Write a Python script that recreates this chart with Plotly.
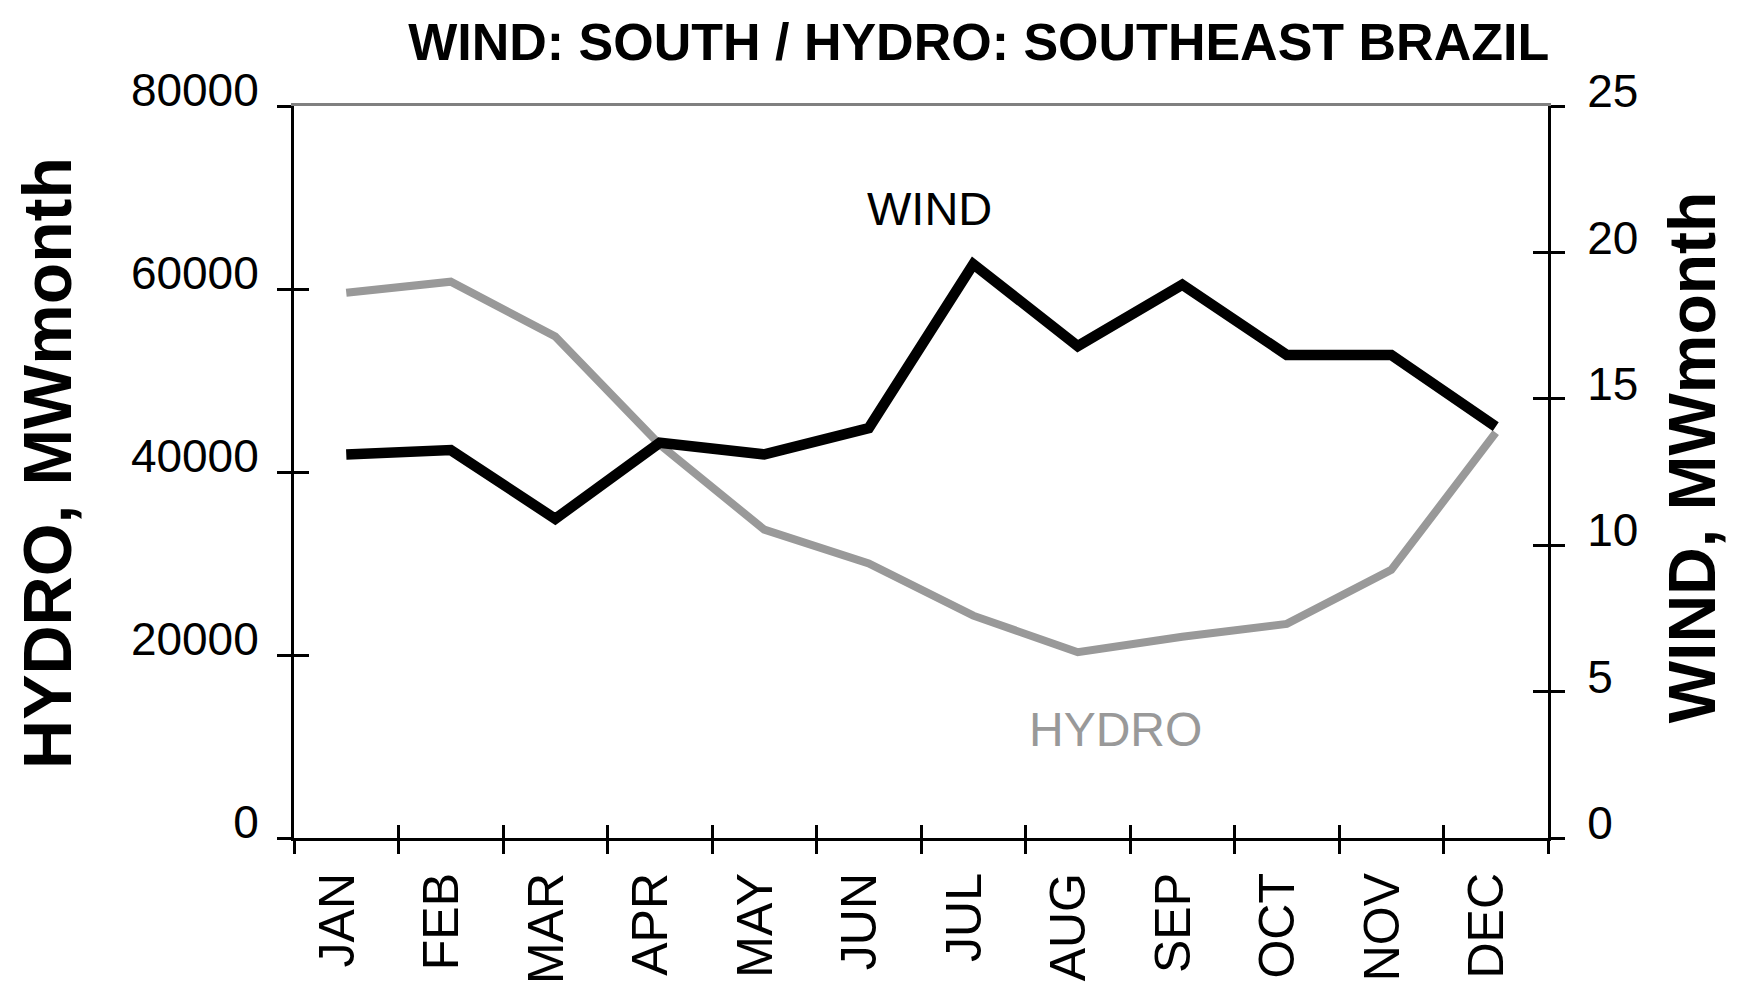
import plotly.graph_objects as go

MONTHS = ["JAN", "FEB", "MAR", "APR", "MAY", "JUN", "JUL", "AUG", "SEP", "OCT", "NOV", "DEC"]
HYDRO = [59600, 60800, 54800, 43000, 33700, 30000, 24300, 20300, 22000, 23400, 29300, 44300]
WIND = [13.1, 13.25, 10.9, 13.5, 13.1, 14.0, 19.6, 16.8, 18.9, 16.5, 16.5, 14.05]
HYDRO_TICKS = [0, 20000, 40000, 60000, 80000]
WIND_TICKS = [0, 5, 10, 15, 20, 25]

TITLE = "WIND: SOUTH / HYDRO: SOUTHEAST BRAZIL"
LEFT_TITLE = "HYDRO, MWmonth"
RIGHT_TITLE = "WIND, MWmonth"
SANS = "Liberation Sans, Arial, sans-serif"

n = len(MONTHS)
bounds = [i - 0.5 for i in range(n + 1)]
xr = [-0.5, n - 0.5]

fig = go.Figure()
fig.add_trace(go.Scatter(x=list(range(n)), y=HYDRO, mode="lines", name="HYDRO",
                         line=dict(color="#999999", width=8), xaxis="x", yaxis="y",
                         showlegend=False))
fig.add_trace(go.Scatter(x=list(range(n)), y=WIND, mode="lines", name="WIND",
                         line=dict(color="#000000", width=10.5), xaxis="x", yaxis="y2",
                         showlegend=False))
# empty traces binding the helper axes (tick marks crossing the axis lines)
for xa, ya in [("x3", "y"), ("x4", "y"), ("x5", "y"), ("x", "y3"), ("x", "y4")]:
    fig.add_trace(go.Scatter(x=[], y=[], xaxis=xa, yaxis=ya, showlegend=False, hoverinfo="skip"))

tickfont = dict(family=SANS, size=46, color="black")
common = dict(showgrid=False, zeroline=False, automargin=False, fixedrange=True)

fig.update_layout(
    width=1724, height=980,
    margin=dict(l=286, r=184, t=98, b=150),
    paper_bgcolor="white", plot_bgcolor="white",
    title=dict(text=TITLE, font=dict(family=SANS, size=52, color="black", weight="bold"),
               xref="paper", x=0.546, xanchor="center", yref="container", y=0.9653,
               yanchor="middle"),
    xaxis=dict(range=xr, tickmode="array", tickvals=list(range(n)), ticktext=MONTHS,
               ticks="", ticklen=0, tickangle=-90, tickfont=dict(family=SANS, size=50, color="black"),
               ticklabelstandoff=12, ticklabelshift=-9, showline=True, linecolor="black",
               linewidth=3, **common),
    xaxis3=dict(overlaying="x", anchor="y", range=xr, tickmode="array", tickvals=bounds,
                ticks="outside", ticklen=15, tickwidth=3, tickcolor="black",
                showticklabels=False, showline=False, **common),
    xaxis4=dict(overlaying="x", anchor="y", range=xr, tickmode="array", tickvals=bounds,
                ticks="inside", ticklen=13, tickwidth=3, tickcolor="black",
                showticklabels=False, showline=False, **common),
    xaxis5=dict(overlaying="x", anchor="y", side="top", range=xr, ticks="",
                showticklabels=False, showline=True, linecolor="#808080", linewidth=3, **common),
    yaxis=dict(range=[0, 80000], tickmode="array", tickvals=HYDRO_TICKS,
               ticktext=[str(v) for v in HYDRO_TICKS], ticks="outside",
               ticklen=14, tickwidth=3, tickcolor="black", tickfont=tickfont,
               ticklabelstandoff=9, ticklabelshift=-16,
               showline=True, linecolor="black", linewidth=3, **common),
    yaxis2=dict(overlaying="y", side="right", anchor="x", range=[0, 25], tickmode="array",
                tickvals=WIND_TICKS, ticktext=[str(v) for v in WIND_TICKS], ticks="outside",
                ticklen=14, tickwidth=3, tickcolor="black",
                tickfont=tickfont, ticklabelstandoff=13, ticklabelshift=-15,
                showline=True, linecolor="black", linewidth=3, **common),
    yaxis3=dict(overlaying="y", side="left", anchor="x", range=[0, 80000], tickmode="array",
                tickvals=HYDRO_TICKS, ticks="inside", ticklen=15, tickwidth=3, tickcolor="black",
                showticklabels=False, showline=False, **common),
    yaxis4=dict(overlaying="y", side="right", anchor="x", range=[0, 25], tickmode="array",
                tickvals=WIND_TICKS, ticks="inside", ticklen=15, tickwidth=3, tickcolor="black",
                showticklabels=False, showline=False, **common),
    annotations=[
        dict(text=LEFT_TITLE, textangle=-90, x=-0.197, y=0.5123, xref="paper", yref="paper",
             showarrow=False, xanchor="center", yanchor="middle",
             font=dict(family=SANS, size=68, color="black", weight="bold")),
        dict(text=RIGHT_TITLE, textangle=-90, x=1.115, y=0.5205, xref="paper", yref="paper",
             showarrow=False, xanchor="center", yanchor="middle",
             font=dict(family=SANS, size=66, color="black", weight="bold")),
        dict(text="WIND", x=5.58, y=21.5, xref="x", yref="y2", showarrow=False,
             font=dict(family=SANS, size=47, color="black"), xanchor="center", yanchor="middle"),
        dict(text="HYDRO", x=7.36, y=11900, xref="x", yref="y", showarrow=False,
             font=dict(family=SANS, size=48, color="#999999"), xanchor="center", yanchor="middle"),
    ],
)

fig.write_html("out.html")
